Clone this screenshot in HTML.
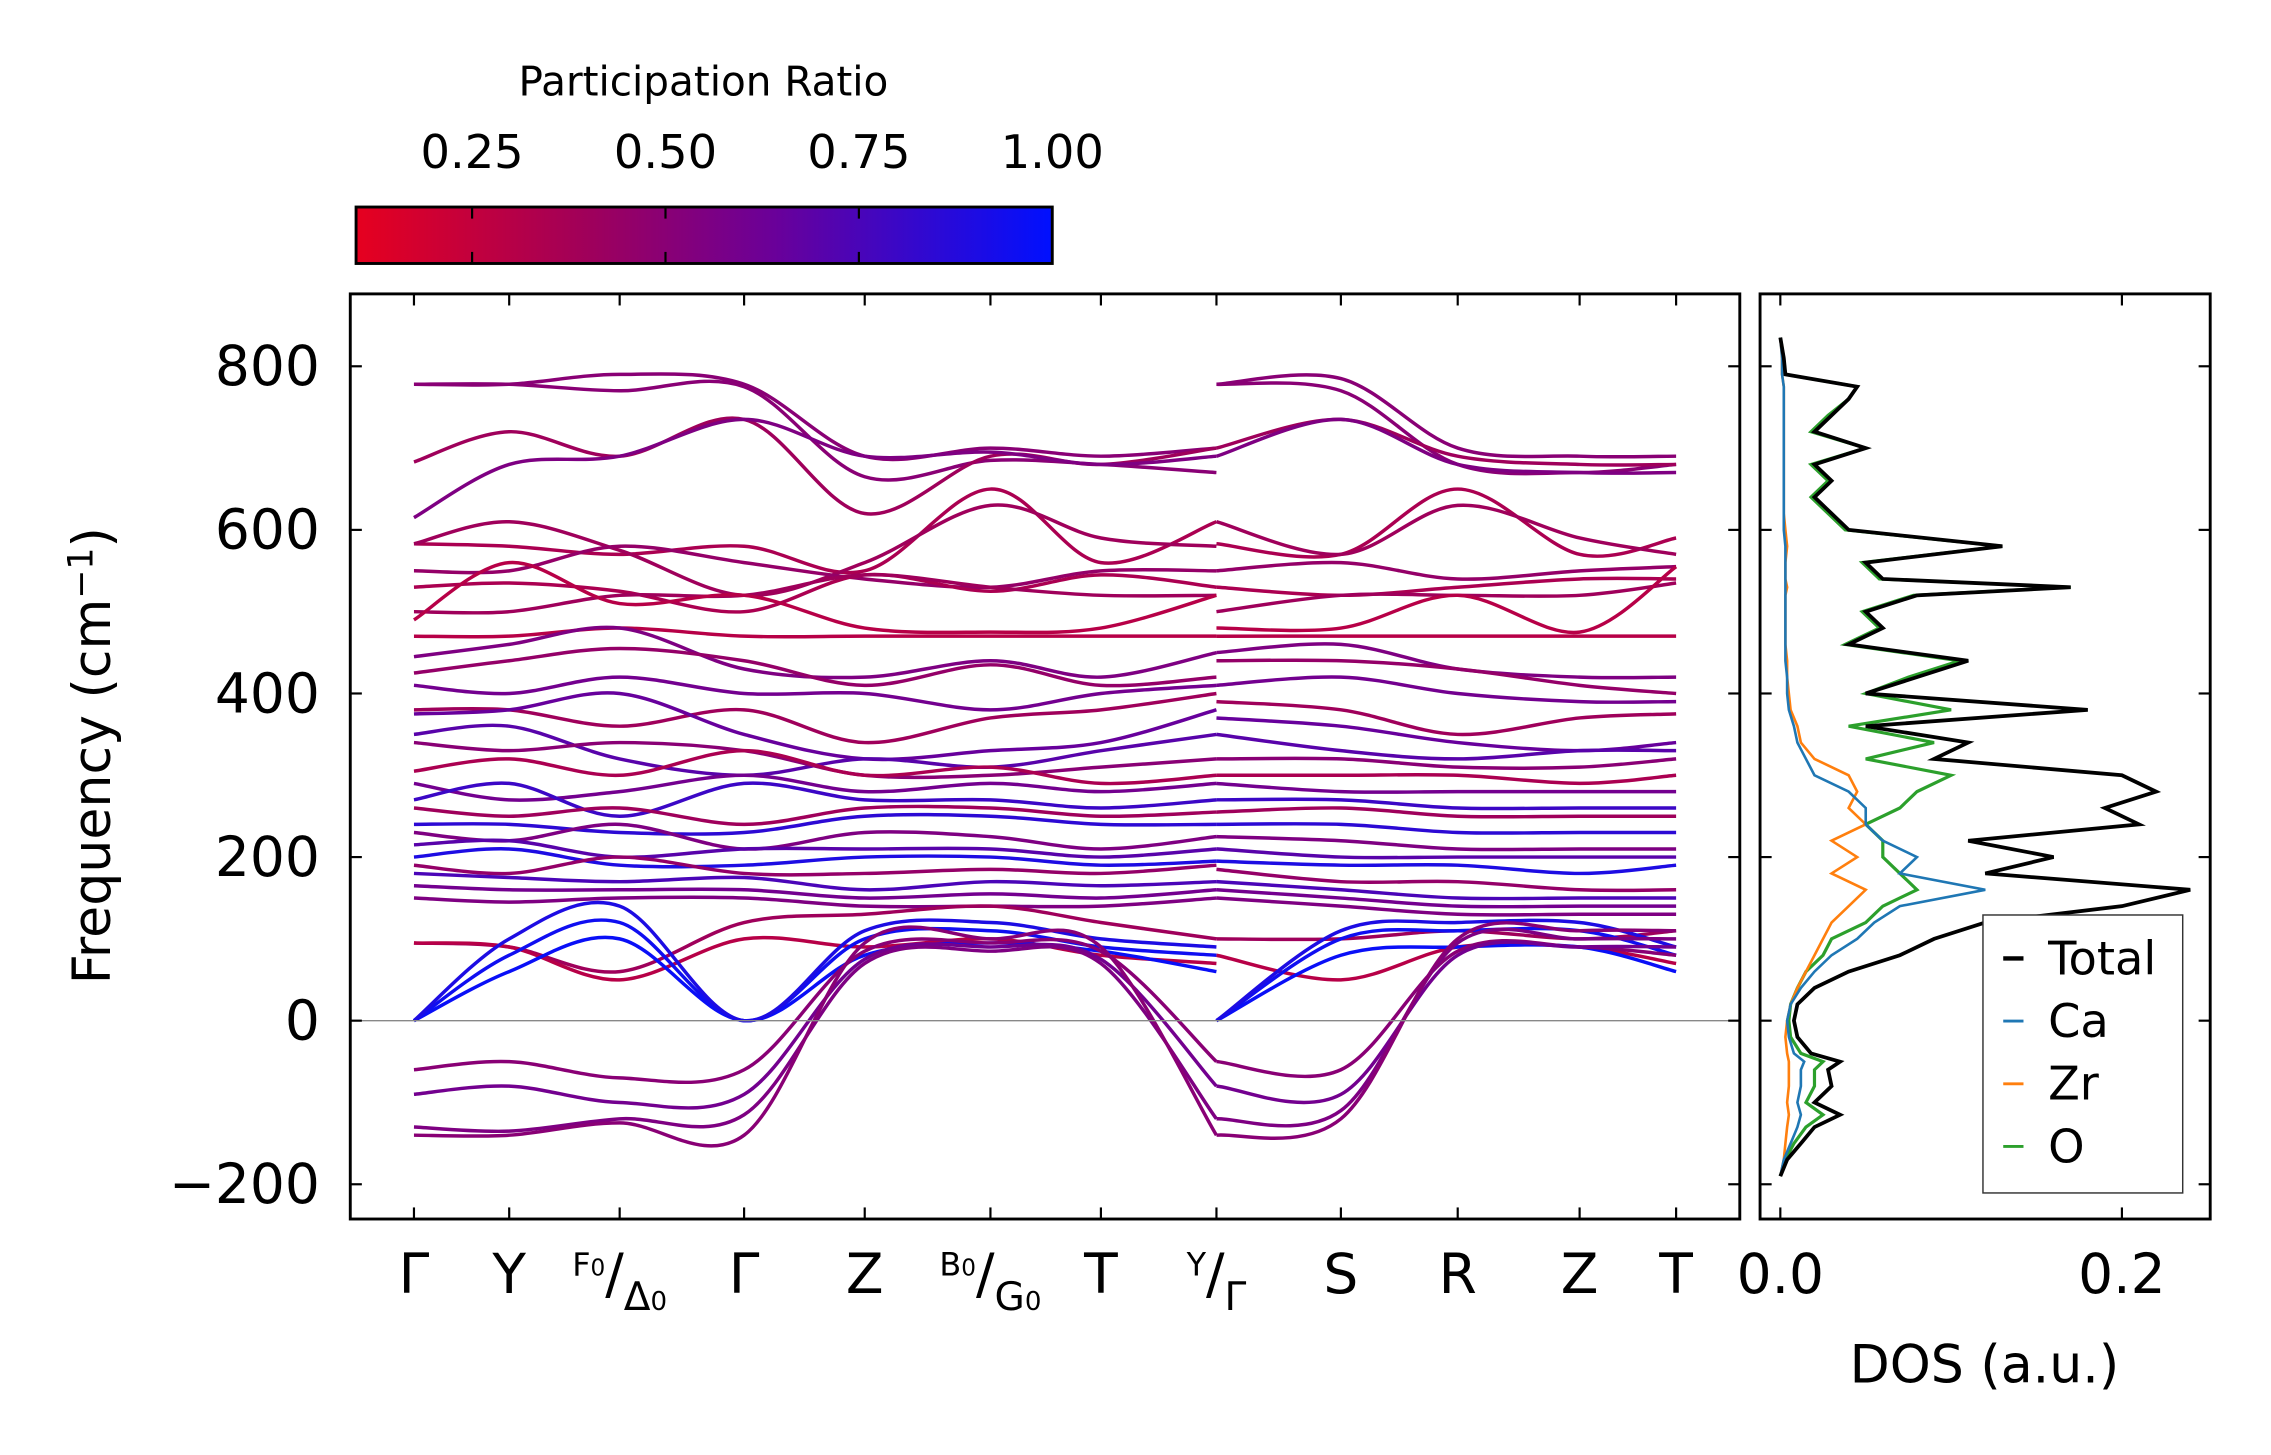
<!DOCTYPE html>
<html><head><meta charset="utf-8"><style>
html,body{margin:0;padding:0;background:#fff}
svg{display:block}
text{font-family:"DejaVu Sans","Liberation Sans",sans-serif;fill:#000}
</style></head><body>
<svg id="fig" width="2271" height="1455" viewBox="0 0 1569 1005" preserveAspectRatio="none" xmlns="http://www.w3.org/2000/svg">
<defs>
<linearGradient id="cmap" x1="0" x2="1" y1="0" y2="0">
<stop offset="0" stop-color="#e6001f"/><stop offset="0.33" stop-color="#a0005a"/><stop offset="0.6" stop-color="#6a0099"/><stop offset="1" stop-color="#0010ff"/>
</linearGradient>
<clipPath id="mainclip"><rect x="242" y="203" width="960" height="639"/></clipPath>
<clipPath id="dosclip"><rect x="1216" y="203" width="311" height="639"/></clipPath>
</defs>
<g>
<text x="486" y="66" font-size="28" text-anchor="middle">Participation Ratio</text>
<rect x="246" y="143" width="481" height="39" fill="url(#cmap)" stroke="#000" stroke-width="2"/>
<g id="cbticks"></g>
</g>
<g id="main">
<g id="bands" clip-path="url(#mainclip)"></g>
<line x1="242" x2="1202" y1="705" y2="705" stroke="#888" stroke-width="1"/>
<rect x="242" y="203" width="960" height="639" fill="none" stroke="#000" stroke-width="2"/>
<g id="mainticks"></g>
<text transform="translate(76,522) rotate(-90)" font-size="36" text-anchor="middle">Frequency (cm<tspan dy="-12" font-size="24">−1</tspan><tspan dy="12">)</tspan></text>
</g>
<g id="dos">
<g id="doslines" clip-path="url(#dosclip)"></g>
<rect x="1216" y="203" width="311" height="639" fill="none" stroke="#000" stroke-width="2"/>
<g id="dosticks"></g>
<text x="1371" y="955" font-size="36" text-anchor="middle">DOS (a.u.)</text>
<g>
<rect x="1370" y="632" width="138" height="192" fill="#fff" stroke="#333" stroke-width="1"/>
<g id="legend"></g>
</g>
</g>
</svg>
<script>
// ---------- data ----------
const kLabels = ["Γ","Y","F0/Δ0","Γ","Z","B0/G0","T","Y/Γ","S","R","Z","T"];
const kPos = [0,0.75,1.62,2.6,3.55,4.54,5.41,6.32,7.3,8.22,9.18,9.94];
const freqTicks = [-200,0,200,400,600,800];
const cbTicks = [0.25,0.50,0.75,1.00];
const dosTicks = [0.0,0.2];
const bandSeg1 = [
[778,778,790,778,690,700,690,700],[778,778,770,775,665,685,680,670],[683,720,690,735,620,690,680,700],
[615,680,690,735,690,695,680,690],[583,580,570,580,550,650,560,610],[583,610,575,520,560,630,590,580],
[550,550,580,560,540,530,550,550],[530,535,525,500,545,525,545,530],[500,500,520,520,545,530,520,520],
[490,560,510,520,480,475,480,520],[470,470,480,470,470,470,470,470],[445,460,480,430,420,440,420,450],
[425,440,455,440,410,435,410,420],[410,400,420,400,400,380,400,410],[380,380,360,380,340,370,380,400],
[375,380,400,350,320,330,340,380],[350,360,320,300,320,310,330,350],[340,330,340,330,300,300,310,320],
[305,320,300,330,300,310,290,300],[290,270,280,300,280,290,280,290],[270,290,250,290,270,270,260,270],
[260,250,260,240,260,260,250,255],[240,240,230,230,250,250,240,240],[230,220,240,210,230,225,210,225],
[215,220,200,210,210,210,200,210],[200,210,190,190,200,200,190,195],[190,180,200,180,180,185,180,190],
[180,175,170,175,160,170,165,170],[165,160,160,160,150,155,150,160],[150,145,150,150,140,140,140,150],
[95,90,60,120,130,140,120,100],[95,90,50,100,90,100,80,70],[0,60,100,0,80,95,85,60],
[0,80,120,0,100,110,90,80],[0,100,140,0,110,120,100,90],
[-60,-50,-70,-60,85,95,85,-50],[-90,-80,-100,-90,75,90,75,-80],[-130,-135,-120,-115,70,85,70,-120],[-140,-140,-125,-140,95,100,90,-140]
];
const bandSeg2 = [
[778,785,700,690,690],[778,770,680,670,680],[700,735,690,680,680],
[690,735,680,670,670],[583,570,650,570,590],[610,570,630,590,570],
[550,560,540,550,555],[530,520,530,540,540],[500,520,520,520,535],
[480,480,520,475,555],[470,470,470,470,470],[450,460,430,420,420],
[440,440,430,410,400],[410,420,400,390,390],[390,380,350,370,375],
[370,360,340,330,340],[350,330,320,330,330],[320,320,310,310,320],
[300,300,300,290,300],[290,280,280,280,280],[270,270,260,260,260],
[255,260,250,250,250],[240,240,230,230,230],[225,220,210,210,210],
[210,200,200,200,200],[195,190,190,180,190],[185,170,170,160,160],
[170,160,150,150,150],[160,150,140,140,140],[150,140,130,130,130],
[100,100,110,100,110],[80,50,90,90,70],[0,80,90,90,60],
[0,100,110,110,80],[0,110,120,120,90],
[-50,-60,85,90,80],[-80,-90,80,90,90],[-120,-110,95,100,100],[-140,-120,100,110,110]
];
const bandPR = [0.5,0.5,0.4,0.55,0.35,0.4,0.45,0.35,0.4,0.3,0.3,0.55,0.45,0.6,0.4,0.65,0.7,0.5,0.35,0.6,0.8,0.4,0.85,0.55,0.7,0.9,0.45,0.75,0.6,0.55,0.4,0.3,0.97,0.95,0.9,0.5,0.6,0.55,0.5];
const dosFreq = [-190,-170,-150,-130,-115,-100,-80,-60,-50,-40,-20,0,20,40,60,80,100,120,140,160,180,200,220,240,260,280,300,320,340,360,380,400,420,440,460,480,500,520,530,540,560,580,600,620,640,660,680,700,720,740,760,775,790,810,835];
const dosTotal = [0,0.004,0.012,0.02,0.035,0.02,0.03,0.028,0.035,0.018,0.01,0.008,0.01,0.02,0.04,0.07,0.09,0.12,0.2,0.24,0.12,0.16,0.11,0.21,0.19,0.22,0.2,0.09,0.11,0.05,0.18,0.05,0.08,0.11,0.04,0.06,0.05,0.08,0.17,0.06,0.05,0.13,0.04,0.03,0.02,0.03,0.02,0.05,0.02,0.03,0.04,0.045,0.003,0.002,0];
const dosCa = [0,0.002,0.006,0.01,0.012,0.01,0.012,0.012,0.014,0.008,0.005,0.004,0.006,0.012,0.02,0.03,0.045,0.055,0.07,0.12,0.07,0.08,0.06,0.05,0.05,0.04,0.02,0.015,0.01,0.008,0.005,0.004,0.004,0.003,0.003,0.003,0.003,0.003,0.003,0.003,0.003,0.003,0.002,0.002,0.002,0.002,0.002,0.002,0.002,0.002,0.002,0.002,0.001,0.001,0];
const dosZr = [0,0.002,0.003,0.004,0.005,0.004,0.005,0.005,0.005,0.004,0.003,0.004,0.006,0.01,0.015,0.02,0.025,0.03,0.04,0.05,0.03,0.045,0.03,0.05,0.04,0.045,0.04,0.02,0.012,0.01,0.006,0.005,0.004,0.004,0.003,0.003,0.003,0.003,0.004,0.003,0.003,0.004,0.003,0.002,0.002,0.002,0.002,0.002,0.002,0.002,0.002,0.002,0.001,0.001,0];
const dosO = [0,0.003,0.008,0.015,0.025,0.015,0.02,0.02,0.025,0.012,0.006,0.005,0.006,0.01,0.015,0.025,0.03,0.05,0.06,0.08,0.07,0.06,0.06,0.05,0.07,0.08,0.1,0.05,0.09,0.04,0.1,0.05,0.075,0.105,0.038,0.058,0.048,0.078,0.17,0.058,0.048,0.13,0.038,0.028,0.018,0.028,0.018,0.05,0.018,0.028,0.04,0.045,0.003,0.002,0];
const dosSeries = [["Total",dosTotal,"#000",2.6],["Ca",dosCa,"#1f77b4",1.8],["Zr",dosZr,"#ff7f0e",1.8],["O",dosO,"#2ca02c",2.2]];

// ---------- scales ----------
const NS="http://www.w3.org/2000/svg";
const kx = k => 286 + (k/9.94)*(1158-286);
const fy = f => 705 - f*(705-253)/800;
const dx = v => 1230 + v*(1466-1230)/0.2;
const cbx = v => 246 + (v-0.1)/(0.9)*(727-246);
function el(tag,attrs,parent){const e=document.createElementNS(NS,tag);for(const k in attrs)e.setAttribute(k,attrs[k]);parent.appendChild(e);return e;}
function prColor(p){const t=Math.max(0,Math.min(1,(p-0.1)/0.9));
  const stops=[[0,[230,0,31]],[0.33,[160,0,90]],[0.6,[106,0,153]],[1,[0,16,255]]];
  for(let i=0;i<stops.length-1;i++){const[a,ca]=stops[i],[b,cb]=stops[i+1];if(t<=b){const u=(t-a)/(b-a);return `rgb(${ca.map((c,j)=>Math.round(c+(cb[j]-c)*u)).join(',')})`;}}
  return 'rgb(0,16,255)';}
function crPath(pts){let d=`M${pts[0][0]},${pts[0][1]}`;
  for(let i=0;i<pts.length-1;i++){const p0=pts[Math.max(0,i-1)],p1=pts[i],p2=pts[i+1],p3=pts[Math.min(pts.length-1,i+2)];
  const c1=[p1[0]+(p2[0]-p0[0])/6,p1[1]+(p2[1]-p0[1])/6],c2=[p2[0]-(p3[0]-p1[0])/6,p2[1]-(p3[1]-p1[1])/6];
  d+=` C${c1[0].toFixed(1)},${c1[1].toFixed(1)} ${c2[0].toFixed(1)},${c2[1].toFixed(1)} ${p2[0].toFixed(1)},${p2[1].toFixed(1)}`;}
  return d;}

// ---------- bands ----------
const bandsG=document.getElementById('bands');
bandSeg1.forEach((b,i)=>{
  const col=prColor(bandPR[i]);
  const p1=b.map((f,j)=>[kx(kPos[j]),fy(f)]);
  const e1=el('path',{d:crPath(p1),fill:'none',stroke:col,'stroke-width':2.4},bandsG);
  
  
  const p2=bandSeg2[i].map((f,j)=>[kx(kPos[7+j]),fy(f)]);
  const e2=el('path',{d:crPath(p2),fill:'none',stroke:col,'stroke-width':2.4},bandsG);
  
  
});

// ---------- main ticks ----------
const mt=document.getElementById('mainticks');
freqTicks.forEach(f=>{const y=fy(f);
  el('line',{x1:242,x2:250,y1:y,y2:y,stroke:'#000','stroke-width':1.5},mt);
  el('line',{x1:1194,x2:1202,y1:y,y2:y,stroke:'#000','stroke-width':1.5},mt);
  const t=el('text',{x:221,y:y+13,'font-size':38,'text-anchor':'end'},mt);
  t.textContent=(f<0?'−':'')+Math.abs(f);
  
  
});
kPos.forEach((k,i)=>{const x=kx(k);
  el('line',{x1:x,x2:x,y1:834,y2:842,stroke:'#000','stroke-width':1.5},mt);
  el('line',{x1:x,x2:x,y1:203,y2:211,stroke:'#000','stroke-width':1.5},mt);
  const lab=kLabels[i];const t=el('text',{x:x,y:893,'font-size':38,'text-anchor':'middle'},mt);
  
  
  if(lab.includes('/')){const [a,b]=lab.split('/');
    const fix=s=>s.replace('0','');
    const t1=document.createElementNS(NS,'tspan');t1.setAttribute('font-size','22');t1.setAttribute('dy','-12');t1.textContent=fix(a);t.appendChild(t1);
    if(a.endsWith('0')){const s=document.createElementNS(NS,'tspan');s.setAttribute('font-size','16');s.textContent='0';t.appendChild(s);}
    const t2=document.createElementNS(NS,'tspan');t2.setAttribute('font-size','38');t2.setAttribute('dy','12');t2.textContent='/';t.appendChild(t2);
    const t3=document.createElementNS(NS,'tspan');t3.setAttribute('font-size','27');t3.setAttribute('dy','12');t3.textContent=fix(b);t.appendChild(t3);
    if(b.endsWith('0')){const s=document.createElementNS(NS,'tspan');s.setAttribute('font-size','18');s.textContent='0';t.appendChild(s);}
  } else t.textContent=lab;
});

// ---------- colorbar ticks ----------
const ct=document.getElementById('cbticks');
cbTicks.forEach(v=>{const x=cbx(v);
  el('line',{x1:x,x2:x,y1:143,y2:151,stroke:'#000','stroke-width':1.5},ct);
  el('line',{x1:x,x2:x,y1:174,y2:182,stroke:'#000','stroke-width':1.5},ct);
  const t=el('text',{x:x,y:116,'font-size':32,'text-anchor':'middle'},ct);t.textContent=v.toFixed(2);
  
  
});

// ---------- DOS ----------
const dl=document.getElementById('doslines');
[3,2,1,0].forEach(si=>{const [name,vals,col,w]=dosSeries[si];
  const pts=vals.map((v,j)=>`${dx(v).toFixed(1)},${fy(dosFreq[j]).toFixed(1)}`).join(' ');
  const p=el('polyline',{points:pts,fill:'none',stroke:col,'stroke-width':w},dl);
  
  
});
const dt=document.getElementById('dosticks');
freqTicks.forEach(f=>{const y=fy(f);
  el('line',{x1:1216,x2:1224,y1:y,y2:y,stroke:'#000','stroke-width':1.5},dt);
  el('line',{x1:1519,x2:1527,y1:y,y2:y,stroke:'#000','stroke-width':1.5},dt);});
dosTicks.forEach(v=>{const x=dx(v);
  el('line',{x1:x,x2:x,y1:834,y2:842,stroke:'#000','stroke-width':1.5},dt);
  el('line',{x1:x,x2:x,y1:203,y2:211,stroke:'#000','stroke-width':1.5},dt);
  const t=el('text',{x:x,y:893,'font-size':38,'text-anchor':'middle'},dt);t.textContent=v.toFixed(1);
  
  
});
const lg=document.getElementById('legend');
dosSeries.forEach(([name,,col],i)=>{const y=662+i*43.3;
  const l=el('line',{x1:1384,x2:1398,y1:y,y2:y,stroke:col,'stroke-width':name==='Total'?3:2},lg);
  
  
  const t=el('text',{x:1415,y:y+11,'font-size':32},lg);t.textContent=name;
  
  
});
</script>
</body></html>
